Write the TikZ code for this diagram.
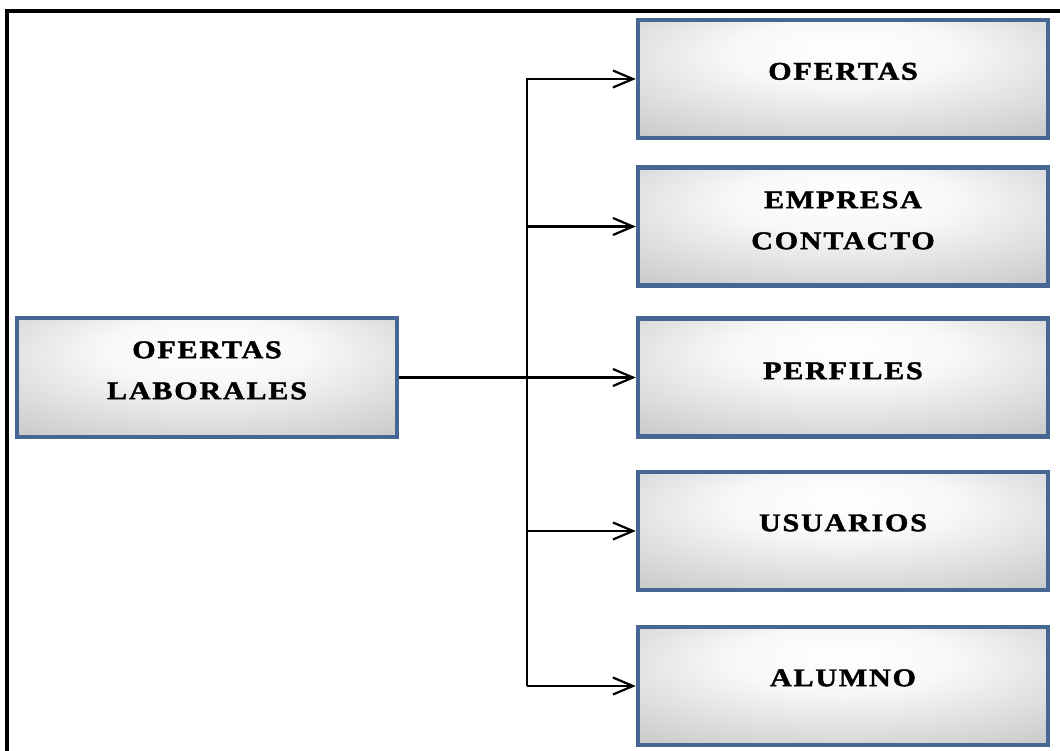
\documentclass[tikz,border=0pt]{standalone}
\usepackage{fontspec}
\setmainfont{Liberation Serif}
\newfontfamily\boxfont[FakeStretch=1.18, LetterSpace=7, FakeBold=1.6]{Liberation Serif}
\usetikzlibrary{arrows.meta}

\definecolor{boxedge}{RGB}{70,102,148}

% soft light centre fading to grey towards the box edges
\pgfdeclareradialshading{boxglow}{\pgfpoint{0bp}{14bp}}{%
  color(0bp)=(white); color(14bp)=(black!3); color(45bp)=(black!25);
  color(70bp)=(black!48)}

% label text lifted a little above the box centre, keeping its extents
\newcommand{\boxlabel}[2][7pt]{\raisebox{#1}[\height][\depth]{\begin{tabular}{@{}c@{}}#2\end{tabular}}}

\tikzset{
  panel/.style={rectangle, draw=boxedge, line width=4.5pt, shading=boxglow,
    minimum width=410pt, minimum height=118pt, inner sep=0pt,
    font=\fontsize{25.5}{41}\selectfont\boxfont\bfseries},
  srcpanel/.style={panel, minimum width=380pt, minimum height=119pt},
  link/.style={draw=black, line width=2.2pt},
  linkarrow/.style={link, -{Straight Barb[length=20pt, width=17pt, line width=2.2pt]}},
  frame/.style={draw=black, line width=3.5pt}
}

\begin{document}
\begin{tikzpicture}[x=1pt, y=-1pt]
  \useasboundingbox (0,0) rectangle (1060,751);

  % outer frame (continues beyond the page on the right and bottom)
  \coordinate (frame-bl) at (7,780);
  \coordinate (frame-tl) at (7,11);
  \coordinate (frame-tr) at (1090,11);
  \draw[frame] (frame-bl) -- (frame-tl) -- (frame-tr);

  % source box
  \node[srcpanel] (laborales) at (207,377.5) {\boxlabel[7pt]{OFERTAS\\LABORALES}};

  % target boxes
  \node[panel] (ofertas)  at (843,79)    {\boxlabel[7.5pt]{OFERTAS}};
  \node[panel] (empresa)  at (843,226.5) {\boxlabel[6pt]{EMPRESA\\CONTACTO}};
  \node[panel] (perfiles) at (843,377.5) {\boxlabel[6.5pt]{PERFILES}};
  \node[panel] (usuarios) at (843,531)   {\boxlabel[8pt]{USUARIOS}};
  \node[panel] (alumno)   at (843,686)   {\boxlabel[8pt]{ALUMNO}};

  % trunk line
  \coordinate (trunk) at (527,0);

  \draw[linkarrow] (laborales.east) -- (perfiles.west);
  \draw[linkarrow] (trunk |- alumno.west) -- (trunk |- ofertas.west) -- (ofertas.west);
  \draw[linkarrow] (trunk |- empresa.west) -- (empresa.west);
  \draw[linkarrow] (trunk |- usuarios.west) -- (usuarios.west);
  \draw[linkarrow] (trunk |- alumno.west) -- (alumno.west);
\end{tikzpicture}
\end{document}
